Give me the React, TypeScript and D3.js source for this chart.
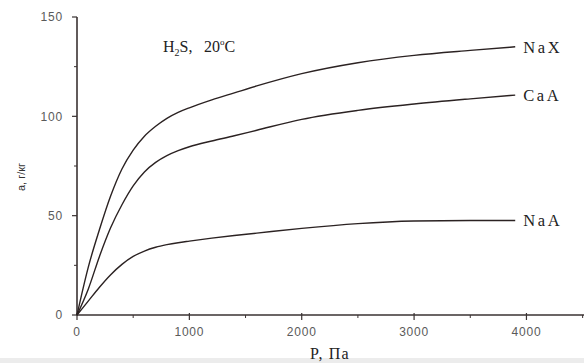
import React from "react";
import * as d3 from "d3";

const pressure = [0, 100, 200, 300, 400, 500, 600, 700, 800, 900, 1000, 1200, 1400, 1600, 2000, 2500, 3000, 3500, 3900];
const naX = [0, 24, 43, 60, 73.5, 83, 90, 95, 99, 102, 104.3, 108.3, 111.8, 115.3, 121.5, 127, 130.7, 133.2, 135];
const caA = [0, 13, 29.5, 44, 55.5, 65, 72, 76.8, 80.2, 82.7, 84.7, 87.6, 90.2, 93, 98.5, 103, 106.2, 108.8, 110.7];
const naA = [0, 7, 14, 20.3, 25.5, 29.5, 32.2, 34.1, 35.4, 36.4, 37.2, 38.7, 40, 41.2, 43.6, 46, 47.3, 47.6, 47.6];
const seriesNames = ["NaX", "CaA", "NaA"];
const seriesValues = [naX, caA, naA];
const xTicks = [0, 1000, 2000, 3000, 4000];
const xMinor = [500, 1500, 2500, 3500, 4500];
const yTicks = [0, 50, 100, 150];
const yMinor = [25, 75, 125];

const W = 584;
const H = 363;

export default function App() {
  const x = d3.scaleLinear().domain([0, 4530]).range([77, 586]);
  const y = d3.scaleLinear().domain([0, 150]).range([315, 17]);
  const line = d3
    .line<[number, number]>()
    .x((d) => x(d[0]))
    .y((d) => y(d[1]))
    .curve(d3.curveMonotoneX);
  const axisColor = "#3a3232";
  const tickFont = "Liberation Sans, Arial, sans-serif";
  const serif = "Liberation Serif, Times New Roman, serif";

  return (
    <svg
      width={W}
      height={H}
      style={{ position: "absolute", left: 0, top: 0, background: "#fff" }}
    >
      <rect x={0} y={0} width={W} height={H} fill="#ffffff" />
      <rect x={0} y={358} width={W} height={5} fill="#ececec" />
      {/* axes */}
      <line x1={x(0)} x2={x(0)} y1={y(0) + 0.5} y2={y(150)} stroke={axisColor} strokeWidth={1.6} />
      <line x1={x(0)} x2={W} y1={y(0)} y2={y(0)} stroke={axisColor} strokeWidth={1.6} />
      {yTicks.map((t) => (
        <g key={"yt" + t}>
          <line x1={x(0) - 5} x2={x(0)} y1={y(t)} y2={y(t)} stroke={axisColor} strokeWidth={1.2} />
          <text
            x={x(0) - 14}
            y={y(t)}
            dy="0.35em"
            textAnchor="end"
            fontFamily={tickFont}
            fontSize={12}
            letterSpacing={0.8}
            fill="#5a5a5a"
          >
            {t}
          </text>
        </g>
      ))}
      {yMinor.map((t) => (
        <line key={"ym" + t} x1={x(0) - 3} x2={x(0)} y1={y(t)} y2={y(t)} stroke={axisColor} strokeWidth={1} />
      ))}
      {xTicks.map((t) => (
        <g key={"xt" + t}>
          <line x1={x(t)} x2={x(t)} y1={y(0) - 2} y2={y(0) + 5} stroke={axisColor} strokeWidth={1.2} />
          <text
            x={x(t)}
            y={y(0) + 17}
            dy="0.35em"
            textAnchor="middle"
            fontFamily={tickFont}
            fontSize={12}
            letterSpacing={0.8}
            fill="#5a5a5a"
          >
            {t}
          </text>
        </g>
      ))}
      {xMinor.map((t) => (
        <line key={"xm" + t} x1={x(t)} x2={x(t)} y1={y(0)} y2={y(0) + 3} stroke={axisColor} strokeWidth={1} />
      ))}
      {/* curves */}
      {seriesValues.map((vals, i) => {
        const pts = pressure.map((p, j) => [p, vals[j]] as [number, number]);
        const last = pts[pts.length - 1];
        return (
          <g key={seriesNames[i]}>
            <path d={line(pts) || ""} fill="none" stroke="#2b2222" strokeWidth={1.4} />
            <text
              x={x(last[0]) + 8}
              y={y(last[1])}
              dy="0.35em"
              fontFamily={serif}
              fontSize={16.5}
              letterSpacing={2.6}
              fill="#222"
            >
              {seriesNames[i]}
            </text>
          </g>
        );
      })}
      {/* title */}
      <text y={52} fontFamily={serif} fontSize={16} fill="#222">
        <tspan x={163}>H</tspan>
        <tspan fontSize={10} dy={4}>2</tspan>
        <tspan dy={-4}>S,</tspan>
        <tspan x={204}>20</tspan>
        <tspan fontSize={9} dy={-7}>o</tspan>
        <tspan dy={7}>C</tspan>
      </text>
      {/* axis labels */}
      <text
        x={330}
        y={353}
        dy="0.35em"
        textAnchor="middle"
        fontFamily={serif}
        fontSize={16}
        letterSpacing={1.2}
        fill="#222"
      >
        P, Па
      </text>
      <text
        transform={`translate(21, 177) rotate(-90)`}
        textAnchor="middle"
        dy="0.35em"
        fontFamily={tickFont}
        fontSize={11}
        fill="#333"
      >
        a, г/кг
      </text>
    </svg>
  );
}
